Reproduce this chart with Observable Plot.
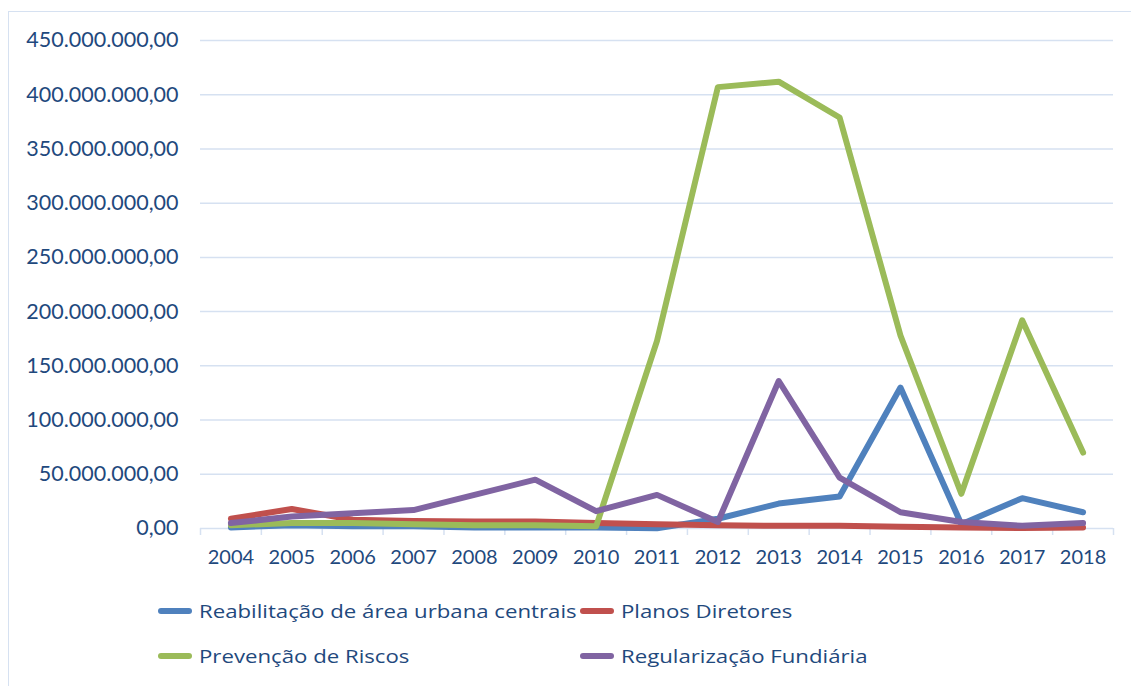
<!DOCTYPE html>
<html><head><meta charset="utf-8">
<script src="https://cdn.jsdelivr.net/npm/d3@7"></script>
<script src="https://cdn.jsdelivr.net/npm/@observablehq/plot@0.6"></script>
<style>
body{margin:0;background:#fff;font-family:Lato,"Open Sans",sans-serif;}
#wrap{position:relative;width:1131px;height:686px;overflow:hidden;}
#frame{position:absolute;left:8px;top:11px;width:1140px;height:700px;border:1.5px solid #D6E1F1;box-sizing:border-box;}
#chart{position:absolute;left:0;top:0;}
.leg{position:absolute;display:flex;align-items:center;font-family:"Open Sans",sans-serif;font-size:18.5px;color:#1F497D;white-space:nowrap;}
.leg span{display:inline-block;transform:scaleX(1.2);transform-origin:0 50%;}
.sw{width:34px;height:6px;border-radius:3px;margin-right:7px;}
</style></head>
<body><div id="wrap"><div id="frame"></div><div id="chart"></div><div id="legend"></div></div>
<script>
const years = [2004,2005,2006,2007,2008,2009,2010,2011,2012,2013,2014,2015,2016,2017,2018];
const seriesNames = ["Reabilitação de área urbana centrais","Planos Diretores","Prevenção de Riscos","Regularização Fundiária"];
const seriesColors = ["#4F81BD","#C0504D","#9BBB59","#8064A2"];
const reabilitacao = [1e6,3e6,2e6,2e6,1e6,1e6,1e6,0.3e6,9e6,23e6,29.5e6,130e6,4e6,28e6,15e6];
const planos = [9e6,18e6,8e6,7e6,6.5e6,6.5e6,5e6,4e6,3e6,2.5e6,2.5e6,1.5e6,1e6,0.5e6,1e6];
const prevencao = [3e6,5e6,5e6,4e6,3e6,3e6,2e6,173e6,407e6,412e6,379e6,178e6,32e6,192e6,70e6];
const regularizacao = [5e6,11e6,14e6,17e6,31e6,45e6,16e6,31e6,6e6,136e6,47e6,15e6,6e6,2.5e6,5e6];
const yTicks = [0,50e6,100e6,150e6,200e6,250e6,300e6,350e6,400e6,450e6];

const allSeries = [reabilitacao, planos, prevencao, regularizacao];
const data = [];
allSeries.forEach((vals, si) => vals.forEach((v, i) => data.push({year: years[i], value: v, series: seriesNames[si]})));
const boundaries = [years[0] - 0.5, ...years.map(y => y + 0.5)];

const loc = d3.formatLocale({decimal: ",", thousands: ".", grouping: [3], currency: ["R$", ""]});
const fmt = loc.format(",.2f");

const grid = "#D6E1F1", txt = "#1F497D";
const plot = Plot.plot({
  width: 1131, height: 590,
  marginLeft: 200, marginRight: 18, marginTop: 40, marginBottom: 62,
  style: {fontFamily: "Lato, 'Open Sans', sans-serif", fontSize: "20px", color: txt, background: "transparent"},
  x: {type: "linear", domain: [years[0] - 0.5, years[years.length - 1] + 0.5]},
  y: {type: "linear", domain: [0, 450e6]},
  color: {domain: seriesNames, range: seriesColors},
  marks: [
    Plot.ruleY(yTicks, {stroke: grid, strokeWidth: 1.5}),
    Plot.axisX(boundaries, {tickSize: 7, stroke: grid, strokeWidth: 1.5, text: null, label: null}),
    Plot.axisY(yTicks, {tickFormat: fmt, tickSize: 0, tickPadding: 22, label: null, fill: txt, fontSize: 21.5}),
    Plot.axisX(years, {tickFormat: d => String(d), tickSize: 0, tickPadding: 21, label: null, fill: txt}),
    Plot.line(data, {x: "year", y: "value", z: "series", stroke: "series", strokeWidth: 6, strokeLinejoin: "round", strokeLinecap: "round"})
  ]
});
document.getElementById("chart").appendChild(plot);

const legendPos = [[158,612],[580,612],[158,657],[580,657]];
const lg = document.getElementById("legend");
seriesNames.forEach((n, i) => {
  const d = document.createElement("div");
  d.className = "leg";
  d.style.left = legendPos[i][0] + "px";
  d.style.top = (legendPos[i][1] - 14) + "px";
  d.innerHTML = `<div class="sw" style="background:${seriesColors[i]}"></div><span>${n}</span>`;
  lg.appendChild(d);
});
</script></body></html>
